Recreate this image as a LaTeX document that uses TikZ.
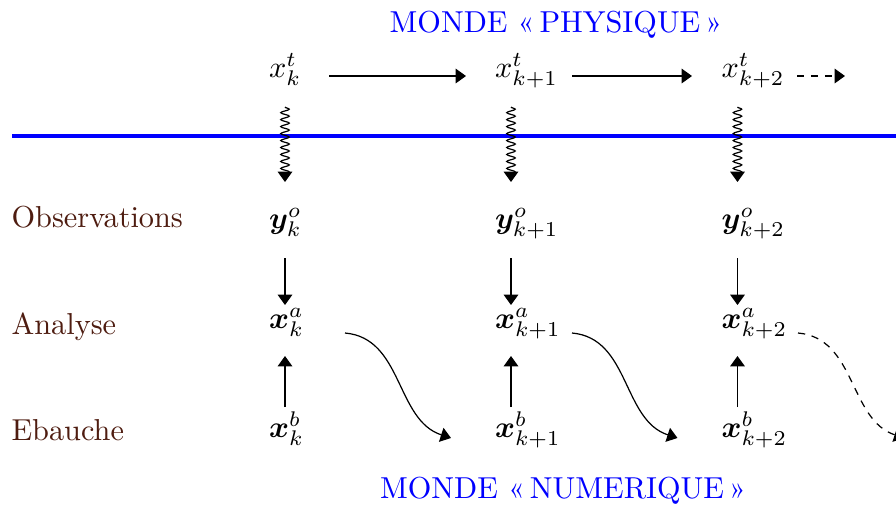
\documentclass[tikz,border=0pt]{standalone}
\usepackage{fontspec}
\usepackage{amsmath,bm}
\usetikzlibrary{arrows.meta,decorations.pathmorphing,calc}
\definecolor{lblbrown}{RGB}{78,28,16}
\begin{document}
\begin{tikzpicture}[x=0.33pt,y=-0.33pt,
  conn/.style={-{Triangle[length=3.4pt,width=4.8pt]}, line width=0.4pt},
  dsh/.style={dash pattern=on 2.4pt off 2.2pt},
  obs/.style={conn, decorate, decoration={snake,amplitude=1.4pt,segment length=2.3pt,post length=2.4pt}},
  lbl/.style={anchor=base west, text=lblbrown, inner sep=0pt},
  mth/.style={anchor=base west, inner sep=0pt},
  world/.style={anchor=base, text=blue, inner sep=0pt}]
\clip (0,0) rectangle (896,506);
% worlds
\node[world] (phys) at (556,32) {MONDE «\,PHYSIQUE\,»};
\node[world] (num) at (563,498) {MONDE «\,NUMERIQUE\,»};
\draw[blue, line width=1pt] (12,136) -- (896,136);
% row labels
\node[lbl] (lobs) at (11,227) {Observations};
\node[lbl] (lana) at (11,334) {Analyse};
\node[lbl] (leba) at (11,440) {Ebauche};
% true states
\node[mth] (xt1) at (268.5,77) {$x_k^t$};
\node[mth] (xt2) at (494.5,77) {$x_{k+1}^t$};
\node[mth] (xt3) at (721,77) {$x_{k+2}^t$};
% observations
\node[mth] (yo1) at (268.5,228) {$\bm{y}_k^o$};
\node[mth] (yo2) at (494.5,228) {$\bm{y}_{k+1}^o$};
\node[mth] (yo3) at (721,228) {$\bm{y}_{k+2}^o$};
% analyses
\node[mth] (xa1) at (268.5,328) {$\bm{x}_k^a$};
\node[mth] (xa2) at (494.5,328) {$\bm{x}_{k+1}^a$};
\node[mth] (xa3) at (721,328) {$\bm{x}_{k+2}^a$};
% backgrounds
\node[mth] (xb1) at (268.5,437) {$\bm{x}_k^b$};
\node[mth] (xb2) at (494.5,437) {$\bm{x}_{k+1}^b$};
\node[mth] (xb3) at (721,437) {$\bm{x}_{k+2}^b$};
\coordinate (xb4) at (948,437);
\coordinate (xt4) at (948,77);
% model evolution (physical)
\draw[conn] ($(xt1.base west)+(60.5,-1)$) -- ($(xt2.base west)+(-28.5,-1)$);
\draw[conn] ($(xt2.base west)+(77.5,-1)$) -- ($(xt3.base west)+(-29,-1)$);
\draw[conn,dsh] ($(xt3.base west)+(76,-1)$) -- ($(xt4)+(-103,-1)$);
% observation operator
\foreach \i in {1,2,3}{
  \draw[obs] ($(xt\i.base west)+(16.5,30)$) -- ($(yo\i.base west)+(16.5,-46)$);
  \draw[conn] ($(yo\i.base west)+(16.5,30)$) -- ($(xa\i.base west)+(16.5,-23)$);
  \draw[conn] ($(xb\i.base west)+(16.5,-30)$) -- ($(xa\i.base west)+(16.5,28)$);
}
% forecasts (numerical)
\draw[conn] ($(xa1.base west)+(76.5,5)$) to[out=-5,in=162] ($(xb2.base west)+(-43.5,1)$);
\draw[conn] ($(xa2.base west)+(77.5,5)$) to[out=-5,in=162] ($(xb3.base west)+(-43.5,1)$);
\draw[conn,dsh] ($(xa3.base west)+(77,5)$) to[out=-5,in=162] ($(xb4)+(-43.5,1)$);
\end{tikzpicture}
\end{document}
